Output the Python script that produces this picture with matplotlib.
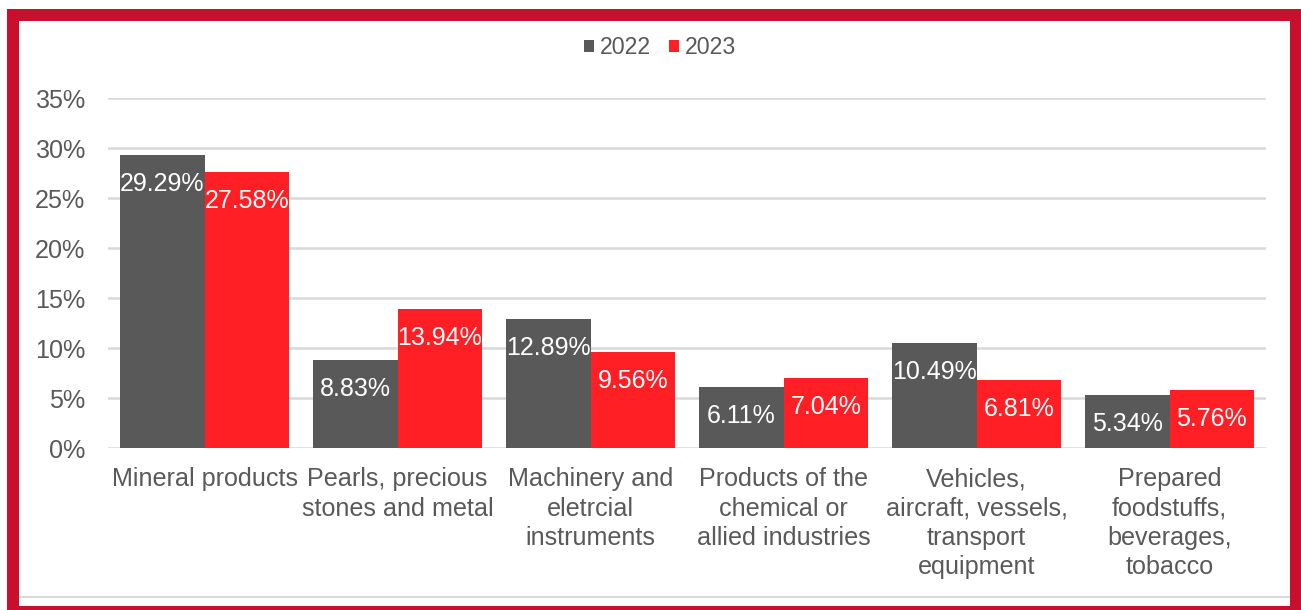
import matplotlib.pyplot as plt
import numpy as np
from matplotlib.patches import Rectangle
from matplotlib.lines import Line2D

plt.rcParams['font.family'] = ['Liberation Sans', 'DejaVu Sans']

# Share of exports by product group
categories = [
    'Mineral products',
    'Pearls, precious\nstones and metal',
    'Machinery and\neletrcial\ninstruments',
    'Products of the\nchemical or\nallied industries',
    'Vehicles,\naircraft, vessels,\ntransport\nequipment',
    'Prepared\nfoodstuffs,\nbeverages,\ntobacco',
]
share_2022 = [29.29, 8.83, 12.89, 6.11, 10.49, 5.34]
share_2023 = [27.58, 13.94, 9.56, 7.04, 6.81, 5.76]
yticks = [0, 5, 10, 15, 20, 25, 30, 35]

gray = '#595959'
red = '#FF1F24'
frame = '#C8102E'
text_gray = '#595959'

W, H = 1301, 610
fig = plt.figure(figsize=(W / 100, H / 100), dpi=100)
ax = fig.add_axes([108 / W, 1 - 448 / H, (1266 - 108) / W, 350 / H])

x = np.arange(len(categories))
w = 0.4375
b1 = ax.bar(x - w / 2, share_2022, w, color=gray, label='2022', zorder=3)
b2 = ax.bar(x + w / 2, share_2023, w, color=red, label='2023', zorder=3)

for bars in (b1, b2):
    for rect in bars:
        v = rect.get_height()
        ax.annotate(f'{v:.2f}%', (rect.get_x() + rect.get_width() / 2, v),
                    xytext=(0, -29 * 0.72), textcoords='offset points',
                    ha='center', va='center', color='white', fontsize=18,
                    zorder=4)

ax.set_xlim(-0.5, len(categories) - 0.5)
ax.set_ylim(0, 35)
ax.set_yticks(yticks)
ax.set_yticklabels([f'{t}%' for t in yticks])
ax.set_xticks(x)
ax.set_xticklabels(categories, linespacing=1.27)
ax.tick_params(axis='both', length=0, labelsize=18.1, labelcolor=text_gray)
ax.tick_params(axis='y', pad=16.5)
ax.tick_params(axis='x', pad=14)
ax.grid(axis='y', color='#D9D9D9', linewidth=1.8, zorder=0)
for s in ax.spines.values():
    s.set_visible(False)

ax.legend(loc='center', bbox_to_anchor=(660 / W, 1 - 48 / H),
          bbox_transform=fig.transFigure, ncol=2, frameon=False,
          fontsize=16.7, labelcolor=text_gray, handlelength=0.45,
          handleheight=0.45, handletextpad=0.25, columnspacing=0.75)

# red frame around the chart
def px_rect(x0, y0, x1, y1, color):
    fig.patches.append(Rectangle((x0 / W, 1 - y1 / H), (x1 - x0) / W,
                                 (y1 - y0) / H, transform=fig.transFigure,
                                 facecolor=color, edgecolor='none', zorder=10))

px_rect(7, 9, W, 21, frame)
px_rect(7, 9, 19, H, frame)
px_rect(1290, 9, W, H, frame)
px_rect(7, 606, W, H, frame)
fig.lines.append(Line2D([19 / W, 1290 / W], [1 - 597 / H, 1 - 597 / H],
                        transform=fig.transFigure, color='#D9D9D9', linewidth=1.5))

fig.savefig('out.png', dpi=100)
